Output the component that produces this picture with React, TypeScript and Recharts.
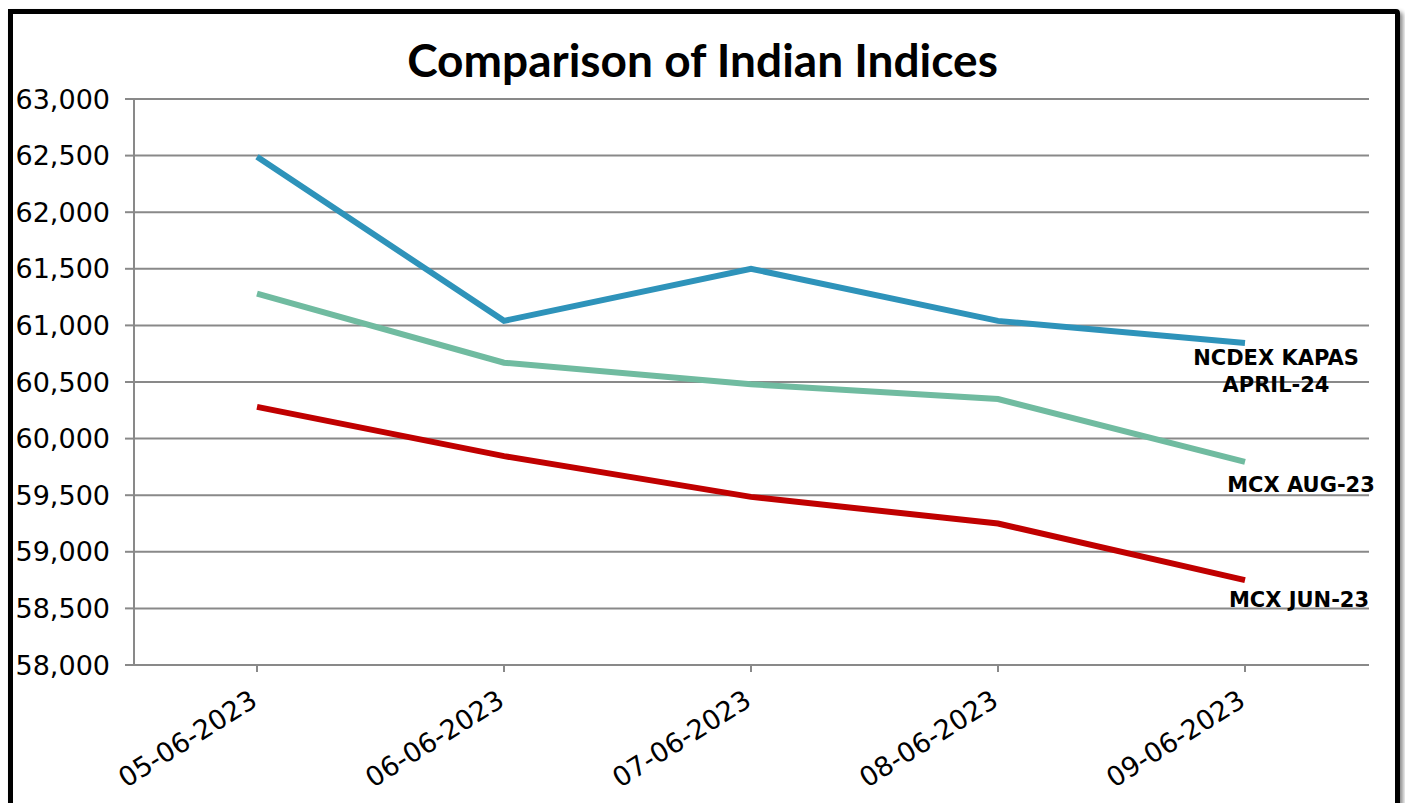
import React from 'react'
import { LineChart, Line, XAxis, YAxis, CartesianGrid, LabelList } from 'recharts'

// values
const dates = ['05-06-2023', '06-06-2023', '07-06-2023', '08-06-2023', '09-06-2023']
const ncdexKapas = [62490, 61040, 61500, 61040, 60845]
const mcxAug = [61280, 60670, 60480, 60350, 59795]
const mcxJun = [60280, 59845, 59485, 59250, 58750]
const yTicks = [58000, 58500, 59000, 59500, 60000, 60500, 61000, 61500, 62000, 62500, 63000]

const data = dates.map((d, i) => ({
  date: d,
  ncdex: ncdexKapas[i],
  aug: mcxAug[i],
  jun: mcxJun[i],
}))

const GRID = '#898989'

const XTick = (props: any) => {
  const { x, y, payload } = props
  return (
    <g transform={`translate(${x + 2},${y + 33})`}>
      <text
        textAnchor="end"
        transform="rotate(-32)"
        fontFamily="DejaVu Sans"
        fontSize={27}
        fill="#000"
      >
        {payload.value}
      </text>
    </g>
  )
}

// series name written next to the last point
const endLabel = (lines: string[], dx: number, dy: number) => (props: any) => {
  const { x, y, index } = props
  if (index !== dates.length - 1) return null
  return (
    <text
      x={x + dx}
      y={y + dy}
      textAnchor="middle"
      fontFamily="DejaVu Sans"
      fontWeight="bold"
      fontSize={21}
      fill="#000"
    >
      {lines.map((l, i) => (
        <tspan key={i} x={x + dx} dy={i === 0 ? 0 : 27}>
          {l}
        </tspan>
      ))}
    </text>
  )
}

export default function App() {
  return (
    <div style={{ position: 'absolute', left: 0, top: 0, width: 1405, height: 803, overflow: 'hidden', background: '#fff' }}>
      {/* frame */}
      <div
        style={{
          position: 'absolute',
          left: 8,
          top: 9,
          width: 1392,
          height: 900,
          boxSizing: 'border-box',
          border: '5px solid #000',
          borderTopRightRadius: 4,
          boxShadow: '3px 3px 4px rgba(0,0,0,0.45)',
        }}
      />
      <div
        style={{
          position: 'absolute',
          left: 0,
          top: 37,
          width: 1405,
          textAlign: 'center',
          fontFamily: 'Lato',
          fontWeight: 'bold',
          fontSize: 46,
          lineHeight: 1,
          color: '#000',
        }}
      >
        Comparison of Indian Indices
      </div>
      <div style={{ position: 'absolute', left: 0, top: 0 }}>
        <LineChart width={1405} height={803} data={data} margin={{ top: 99, right: 36, bottom: 0, left: 0 }}>
          <CartesianGrid vertical={false} stroke={GRID} strokeWidth={2} />
          <XAxis
            dataKey="date"
            height={138}
            padding={{ left: 123, right: 124 }}
            stroke={GRID}
            strokeWidth={2}
            tickSize={7}
            tickMargin={0}
            tick={<XTick />}
            interval={0}
          />
          <YAxis
            width={134}
            domain={[58000, 63000]}
            ticks={yTicks}
            stroke={GRID}
            strokeWidth={2}
            tickSize={9}
            tickMargin={15}
            tick={{ fontFamily: 'DejaVu Sans', fontSize: 27, fill: '#000' }}
            tickFormatter={(v: number) => v.toLocaleString('en-US')}
            interval={0}
          />
          <Line dataKey="ncdex" stroke="#2E93BA" strokeWidth={6} dot={false} isAnimationActive={false}>
            <LabelList dataKey="ncdex" content={endLabel(['NCDEX KAPAS', 'APRIL-24'], 31, 22)} />
          </Line>
          <Line dataKey="aug" stroke="#70BBA0" strokeWidth={6} dot={false} isAnimationActive={false}>
            <LabelList dataKey="aug" content={endLabel(['MCX AUG-23'], 56, 30)} />
          </Line>
          <Line dataKey="jun" stroke="#C00000" strokeWidth={6} dot={false} isAnimationActive={false}>
            <LabelList dataKey="jun" content={endLabel(['MCX JUN-23'], 54, 27)} />
          </Line>
        </LineChart>
      </div>
    </div>
  )
}
